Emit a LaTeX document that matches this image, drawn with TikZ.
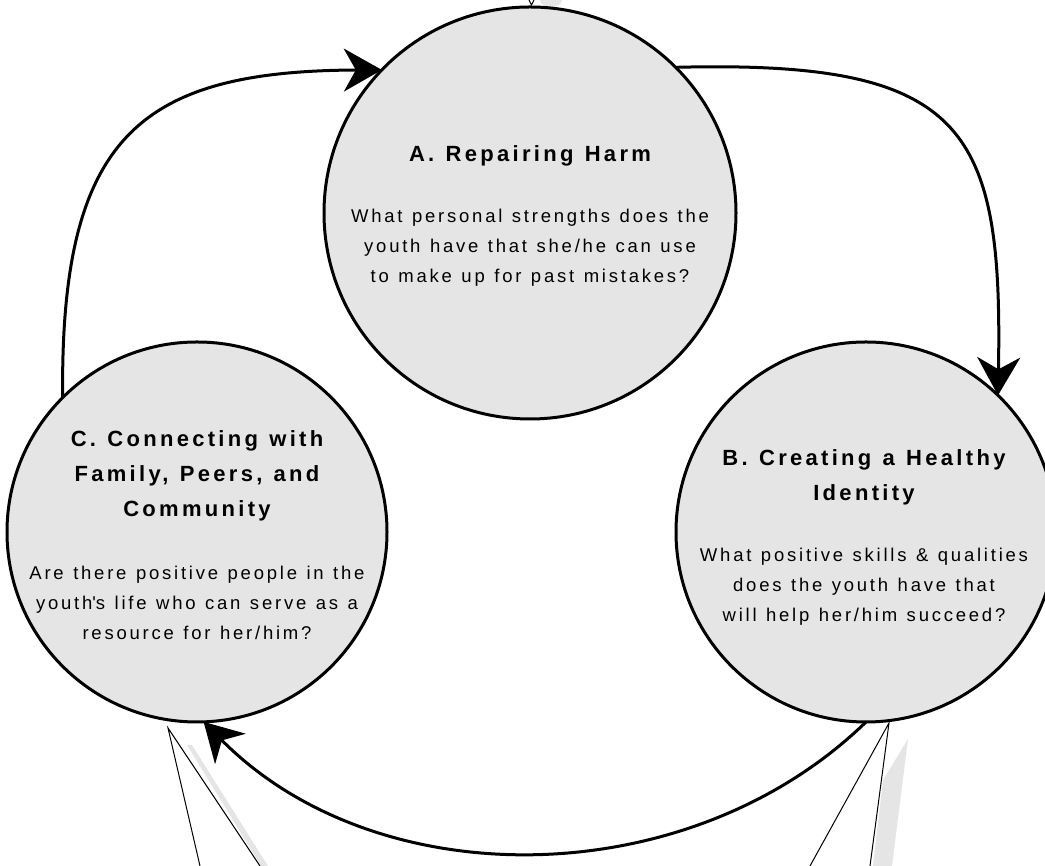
\documentclass[tikz,border=0pt]{standalone}
\usepackage{fontspec}
\setmainfont{Liberation Sans}
\newfontfamily\headfont[LetterSpace=15,WordSpace=1.2]{Liberation Sans}
\newfontfamily\askfont[LetterSpace=15,WordSpace=1.2]{Liberation Sans}
\usetikzlibrary{arrows.meta}
\definecolor{disc}{HTML}{E5E5E5}

\begin{document}
\begin{tikzpicture}[x=1pt,y=1pt,
    bubble/.style={circle,draw,fill=disc,line width=3pt,inner sep=0pt,outer sep=0pt},
    head/.style={align=center,font=\headfont\bfseries\fontsize{22}{35}\selectfont},
    ask/.style={align=center,font=\askfont\fontsize{18.5}{30}\selectfont},
    loop/.style={line width=3pt,-{Stealth[length=38pt,width=43pt,inset=12pt]}},
    callout/.style={line width=1pt}]
  \useasboundingbox (0,0) rectangle (1045,866);
  \fill[disc] (540,866) arc[start angle=180,end angle=360,x radius=11,y radius=7];
  \fill[disc] (187,121) -- (192,121) -- (268,0) -- (261,0) -- cycle;
  \fill[disc] (908,127) -- (892,0) -- (873,0) -- (883,86) -- cycle;

  \node[bubble,minimum size=412pt] (A) at (530,653) {};
  \node[bubble,minimum size=380pt] (B) at (866,334) {};
  \node[bubble,minimum size=380pt] (C) at (197,334) {};

  \node[head] (Ahead) at (530,710) {A. Repairing Harm};
  \node[ask] (Aask) at (530,618) {What personal strengths does the\\youth have that she/he can use\\to make up for past mistakes?};
  \node[head] (Bhead) at (864,389) {B. Creating a Healthy\\Identity};
  \node[ask] (Bask) at (864,279) {What positive skills \& qualities\\does the youth have that\\will help her/him succeed?};
  \node[head] (Chead) at (197,390) {C. Connecting with\\Family, Peers, and\\Community};
  \node[ask] (Cask) at (197,263) {Are there positive people in the\\youth\textquotesingle s life who can serve as a\\resource for her/him?};

  \draw[loop] (A.45) .. controls (965,806) and (1003,740) .. (B.46);
  \draw[loop] (B.270) .. controls (689,-28) and (378,-32) .. (C.272);
  \draw[loop] (C.135) .. controls (60,730) and (140,795) .. (A.136);

  \coordinate (cl) at (168,138);
  \coordinate (cr) at (889,143);
  \coordinate (ct) at (531.5,861);
  \draw[callout] (200,0) -- (cl) -- (260,0);
  \draw[callout] (810,0) -- (cr) -- (870,0);
  \draw[callout] (529,866) -- (ct) -- (534,866);
\end{tikzpicture}
\end{document}
